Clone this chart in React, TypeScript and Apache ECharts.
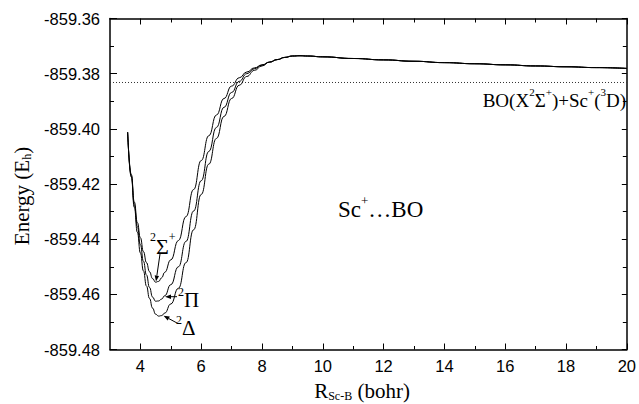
import React, { useEffect, useRef } from "react";
import * as echarts from "echarts";

// Internuclear distance R (bohr)
const R = [3.58, 3.7, 3.8, 3.9, 4.0, 4.1, 4.2, 4.3, 4.4, 4.5, 4.6, 4.7, 4.8, 5.0, 5.25, 5.5, 5.75, 6.0, 6.25, 6.5, 6.75, 7.0, 7.25, 7.5, 7.75, 8.0, 8.25, 8.5, 8.75, 9.0, 9.25, 9.5, 10, 11, 12, 13, 14, 15, 16, 17, 18, 19, 20];

// Energies (Eh) for each state
const tail = [-859.3758, -859.3749, -859.3741, -859.3736, -859.3735, -859.3736, -859.3739, -859.3745, -859.375, -859.3755, -859.376, -859.3764, -859.3768, -859.3772, -859.3775, -859.3778, -859.3781];
const sigmaE = [-859.4012, -859.4165, -859.4265, -859.434, -859.4395, -859.4445, -859.4485, -859.4518, -859.4543, -859.4556, -859.4553, -859.454, -859.452, -859.4475, -859.4405, -859.4318, -859.422, -859.4115, -859.4025, -859.395, -859.389, -859.3845, -859.3815, -859.3794, -859.3779, -859.3768, ...tail];
const piE = [-859.4012, -859.417, -859.4275, -859.4355, -859.442, -859.448, -859.453, -859.4575, -859.461, -859.4625, -859.4624, -859.4617, -859.4605, -859.4565, -859.45, -859.4408, -859.4298, -859.4188, -859.4082, -859.3995, -859.3922, -859.3868, -859.3828, -859.38, -859.3782, -859.3769, ...tail];
const deltaE = [-859.4012, -859.4175, -859.4285, -859.4375, -859.445, -859.4515, -859.457, -859.4615, -859.465, -859.4672, -859.4679, -859.4677, -859.4668, -859.4635, -859.4578, -859.4485, -859.4366, -859.4238, -859.4128, -859.4035, -859.3955, -859.389, -859.3842, -859.381, -859.3788, -859.3772, ...tail];

// Asymptote BO(X2Σ+)+Sc+(3D)
const asymptoteE = -859.3832;
const asymptoteR = [3, 20];

// Axis ticks
const xMajor = [4, 6, 8, 10, 12, 14, 16, 18, 20];
const xMinor = [5, 7, 9, 11, 13, 15, 17, 19];
const yMajor = [-859.48, -859.46, -859.44, -859.42, -859.4, -859.38, -859.36];
const yMinor = [-859.47, -859.45, -859.43, -859.41, -859.39, -859.37];

const serif = '"Liberation Serif", "Times New Roman", serif';
const sans = '"Liberation Sans", Arial, sans-serif';

function arrow(x1: number, y1: number, x2: number, y2: number) {
  const dx = x2 - x1, dy = y2 - y1;
  const len = Math.sqrt(dx * dx + dy * dy);
  const ux = dx / len, uy = dy / len;
  const hl = 6, hw = 2.2;
  const bx = x2 - ux * hl, by = y2 - uy * hl;
  return {
    type: "group",
    children: [
      { type: "line", shape: { x1, y1, x2: bx, y2: by }, style: { stroke: "#000", lineWidth: 1 } },
      {
        type: "polygon",
        shape: { points: [[x2, y2], [bx - uy * hw, by + ux * hw], [bx + uy * hw, by - ux * hw]] },
        style: { fill: "#000" },
      },
    ],
  };
}

export default function App() {
  const ref = useRef<HTMLDivElement>(null);
  useEffect(() => {
    if (!ref.current) return;
    const chart = echarts.init(ref.current, null, { renderer: "svg" });
    const mk = (arr: number[]) => R.map((r, i) => [r, arr[i]]);
    const lineSeries = (name: string, arr: number[]) => ({
      name,
      type: "line",
      data: mk(arr),
      showSymbol: false,
      smooth: 0.5,
      smoothMonotone: "x",
      lineStyle: { color: "#000", width: 1 },
      xAxisIndex: 0,
      yAxisIndex: 0,
      z: 3,
    });
    const baseX = { type: "value", min: 3, max: 20, splitLine: { show: false } };
    const baseY = { type: "value", min: -859.48, max: -859.36, splitLine: { show: false } };
    const axisLine = { show: true, lineStyle: { color: "#000", width: 1.5 } };
    const tickStyle = { color: "#000", width: 1 };
    const rich = (main: number, sup: number) => ({
      m: { fontSize: main, fontFamily: serif, fill: "#000", lineHeight: main + 4, verticalAlign: "bottom" },
      sp: { fontSize: sup, fontFamily: serif, fill: "#000", lineHeight: sup, verticalAlign: "top" },
      sb: { fontSize: sup, fontFamily: serif, fill: "#000", lineHeight: sup, verticalAlign: "bottom" },
    });
    chart.setOption({
      animation: false,
      backgroundColor: "#fff",
      grid: { left: 110, right: 10.5, top: 18.5, bottom: 54.5, containLabel: false },
      xAxis: [
        {
          ...baseX,
          position: "bottom",
          axisLine,
          axisTick: { show: true, inside: true, length: 6, customValues: xMajor, lineStyle: tickStyle },
          axisLabel: { show: true, customValues: xMajor, margin: 8, fontSize: 16.5, fontFamily: sans, color: "#000" },
        },
        {
          ...baseX,
          position: "bottom",
          axisLine: { show: false },
          axisTick: { show: true, inside: true, length: 3.5, customValues: xMinor, lineStyle: tickStyle },
          axisLabel: { show: false },
        },
        {
          ...baseX,
          position: "top",
          axisLine,
          axisTick: { show: true, inside: true, length: 6, customValues: xMajor, lineStyle: tickStyle },
          axisLabel: { show: false },
        },
        {
          ...baseX,
          position: "top",
          axisLine: { show: false },
          axisTick: { show: true, inside: true, length: 4, customValues: xMinor, lineStyle: tickStyle },
          axisLabel: { show: false },
        },
      ],
      yAxis: [
        {
          ...baseY,
          position: "left",
          axisLine,
          axisTick: { show: true, inside: true, length: 7, customValues: yMajor, lineStyle: tickStyle },
          axisLabel: {
            show: true,
            customValues: yMajor,
            margin: 10,
            fontSize: 16.5,
            fontFamily: sans,
            color: "#000",
            formatter: (v: number) => v.toFixed(2),
          },
        },
        {
          ...baseY,
          position: "left",
          axisLine: { show: false },
          axisTick: { show: true, inside: true, length: 4, customValues: yMinor, lineStyle: tickStyle },
          axisLabel: { show: false },
        },
        {
          ...baseY,
          position: "right",
          axisLine,
          axisTick: { show: true, inside: true, length: 5, customValues: yMajor, lineStyle: tickStyle },
          axisLabel: { show: false },
        },
        {
          ...baseY,
          position: "right",
          axisLine: { show: false },
          axisTick: { show: true, inside: true, length: 4, customValues: yMinor, lineStyle: tickStyle },
          axisLabel: { show: false },
        },
      ],
      series: [
        lineSeries("2Σ+", sigmaE),
        lineSeries("2Π", piE),
        lineSeries("2Δ", deltaE),
        {
          name: "asymptote",
          type: "line",
          data: asymptoteR.map((r) => [r, asymptoteE]),
          showSymbol: false,
          lineStyle: { color: "#333", width: 1, type: [1, 2] },
          xAxisIndex: 0,
          yAxisIndex: 0,
          z: 2,
        },
      ],
      graphic: [
        {
          type: "text",
          x: 20,
          y: 196,
          rotation: Math.PI / 2,
          style: {
            text: "{m|Energy (E}{sb|h}{m|)}",
            rich: rich(21, 12),
            align: "center",
            verticalAlign: "middle",
          },
        },
        {
          type: "text",
          x: 362,
          y: 389,
          style: {
            text: "{m|R}{sb|Sc-B}{m| (bohr)}",
            rich: rich(21, 12),
            align: "center",
            verticalAlign: "middle",
          },
        },
        {
          type: "text",
          x: 338,
          y: 207,
          style: {
            text: "{m|Sc}{sp|+}{m|…BO}",
            rich: rich(23, 13),
            align: "left",
            verticalAlign: "middle",
          },
        },
        {
          type: "text",
          x: 626,
          y: 98,
          style: {
            text: "{m|BO(X}{sp|2}{m|Σ}{sp|+}{m|)+Sc}{sp|+}{m|(}{sp|3}{m|D)}",
            rich: rich(19, 11),
            align: "right",
            verticalAlign: "middle",
          },
        },
        {
          type: "text",
          x: 150,
          y: 244,
          style: { text: "{sp|2}{m|Σ}{sp|+}", rich: rich(22, 12), align: "left", verticalAlign: "middle" },
        },
        {
          type: "text",
          x: 178,
          y: 298,
          style: { text: "{sp|2}{m|Π}", rich: rich(21, 12), align: "left", verticalAlign: "middle" },
        },
        {
          type: "text",
          x: 176,
          y: 326,
          style: { text: "{sp|2}{m|Δ}", rich: rich(21, 12), align: "left", verticalAlign: "middle" },
        },
        arrow(160, 254, 156, 281.5),
        arrow(177, 296.7, 165, 296.7),
        arrow(177, 323, 163.5, 315.7),
      ],
    });
    return () => chart.dispose();
  }, []);
  return <div ref={ref} style={{ width: 639, height: 404, position: "absolute", left: 0, top: 0 }} />;
}
